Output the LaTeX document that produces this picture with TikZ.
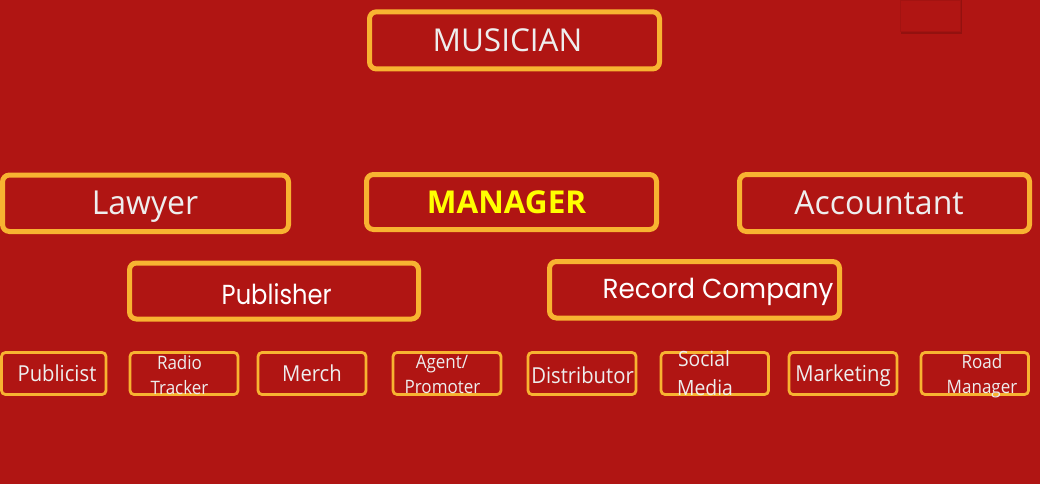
\documentclass[tikz,border=0pt]{standalone}
\usepackage{fontspec}
\newfontfamily\segf{Open Sans}[FakeStretch=0.92]
\newfontfamily\segbig{Open Sans}[FakeStretch=0.97]
\newfontfamily\segw{Open Sans}
\newfontfamily\segb{Open Sans Bold}
\newfontfamily\geof{Poppins}[FakeStretch=0.88]
\newfontfamily\geow{Poppins}[FakeStretch=0.955]
\definecolor{bgred}{HTML}{B01513}
\definecolor{bord}{HTML}{F8B331}
\definecolor{txtl}{HTML}{EEEEEE}
\definecolor{mgry}{HTML}{FFFF00}
\definecolor{sqedge}{HTML}{A31311}
\tikzset{
  bigbox/.style={draw=bord, line width=5pt, rounded corners=7pt, fill=none},
  smallbox/.style={draw=bord, line width=2.8pt, rounded corners=4pt, fill=none},
  bigtxt/.style={anchor=base, inner sep=0pt, text=txtl, font=\segbig\fontsize{33}{38}\selectfont},
  geotxt/.style={anchor=base, inner sep=0pt, text=white, font=\geof\fontsize{27.5}{32}\selectfont},
  smtxt/.style={anchor=base, inner sep=0pt, text=txtl, font=\segf\fontsize{22}{26}\selectfont},
  twotxt/.style={anchor=base, inner sep=0pt, text=txtl, font=\segf\fontsize{18.5}{22}\selectfont},
}
\begin{document}
\begin{tikzpicture}[x=1pt,y=-1pt]
\useasboundingbox (0,0) rectangle (1040,484);
\fill[bgred] (0,0) rectangle (1040,484);
% small square top right with shadow
\fill[black, opacity=0.16] (901,0) rectangle (962,34);
\fill[black, opacity=0.14] (900,0) rectangle (961,32.5);
\node[draw=sqedge, line width=0.6pt, fill=bgred, minimum width=60pt, minimum height=31pt, inner sep=0pt, anchor=north west] (sq) at (900,0) {};
% big boxes
\draw[bigbox] (369.5,11.8) rectangle (659.5,69) node[pos=0.5] (musician) {};
\draw[bigbox] (2.5,175) rectangle (288.5,231.5) node[pos=0.5] (lawyer) {};
\draw[bigbox] (366.5,174.5) rectangle (656.5,229.5) node[pos=0.5] (manager) {};
\draw[bigbox] (739.5,174.5) rectangle (1029.5,231.5) node[pos=0.5] (accountant) {};
\draw[bigbox] (129.5,263) rectangle (418.5,319) node[pos=0.5] (publisher) {};
\draw[bigbox] (549.5,261.5) rectangle (839.5,318) node[pos=0.5] (record) {};
% big texts
\node[bigtxt, font=\segw\fontsize{31.5}{36}\selectfont] (musiciant) at (507.5,51.7) {MUSICIAN};
\node[bigtxt] (lawyert) at (145,214.3) {Lawyer};
\node[bigtxt, text=mgry, font=\segb\fontsize{31.5}{36}\selectfont] (managert) at (506.5,213.3) {MANAGER};
\node[bigtxt] (accountantt) at (879,214.3) {Accountant};
\node[geotxt] (publishert) at (276.7,304) {Publisher};
\node[geotxt, font=\geow\fontsize{27.5}{32}\selectfont] (recordt) at (718,298.3) {Record Company};
% small boxes
\draw[smallbox] (1.5,352.5) rectangle (106,394.5) node[pos=0.5] (publicist) {};
\draw[smallbox] (130,352.5) rectangle (238,394.5) node[pos=0.5] (radio) {};
\draw[smallbox] (258,352.5) rectangle (366,394.5) node[pos=0.5] (merch) {};
\draw[smallbox] (393,352.5) rectangle (501,394.5) node[pos=0.5] (agent) {};
\draw[smallbox] (528,352.5) rectangle (636,394.5) node[pos=0.5] (distributor) {};
\draw[smallbox] (661,352.5) rectangle (768.5,394.5) node[pos=0.5] (social) {};
\draw[smallbox] (789,352.5) rectangle (897,394.5) node[pos=0.5] (marketing) {};
\draw[smallbox] (921,352.5) rectangle (1028.5,394.5) node[pos=0.5] (road) {};
% small texts
\node[smtxt] (publicistt) at (57,381.7) {Publicist};
\node[twotxt] (radiot1) at (179.5,369) {Radio};
\node[twotxt] (radiot2) at (179.5,394) {Tracker};
\node[smtxt] (mercht) at (312,381.7) {Merch};
\node[twotxt] (agentt1) at (442,368.3) {Agent/};
\node[twotxt] (agentt2) at (442.5,393.3) {Promoter};
\node[smtxt] (distributort) at (582.5,383) {Distributor};
\node[smtxt, font=\segf\fontsize{21}{25}\selectfont] (socialt1) at (704,366.7) {Social};
\node[smtxt, font=\segf\fontsize{21}{25}\selectfont] (socialt2) at (705,395) {Media};
\node[smtxt] (marketingt) at (843,381.7) {Marketing};
\node[twotxt] (roadt1) at (982,368) {Road};
\node[twotxt] (roadt2) at (982,393.3) {Manager};
\end{tikzpicture}
\end{document}
